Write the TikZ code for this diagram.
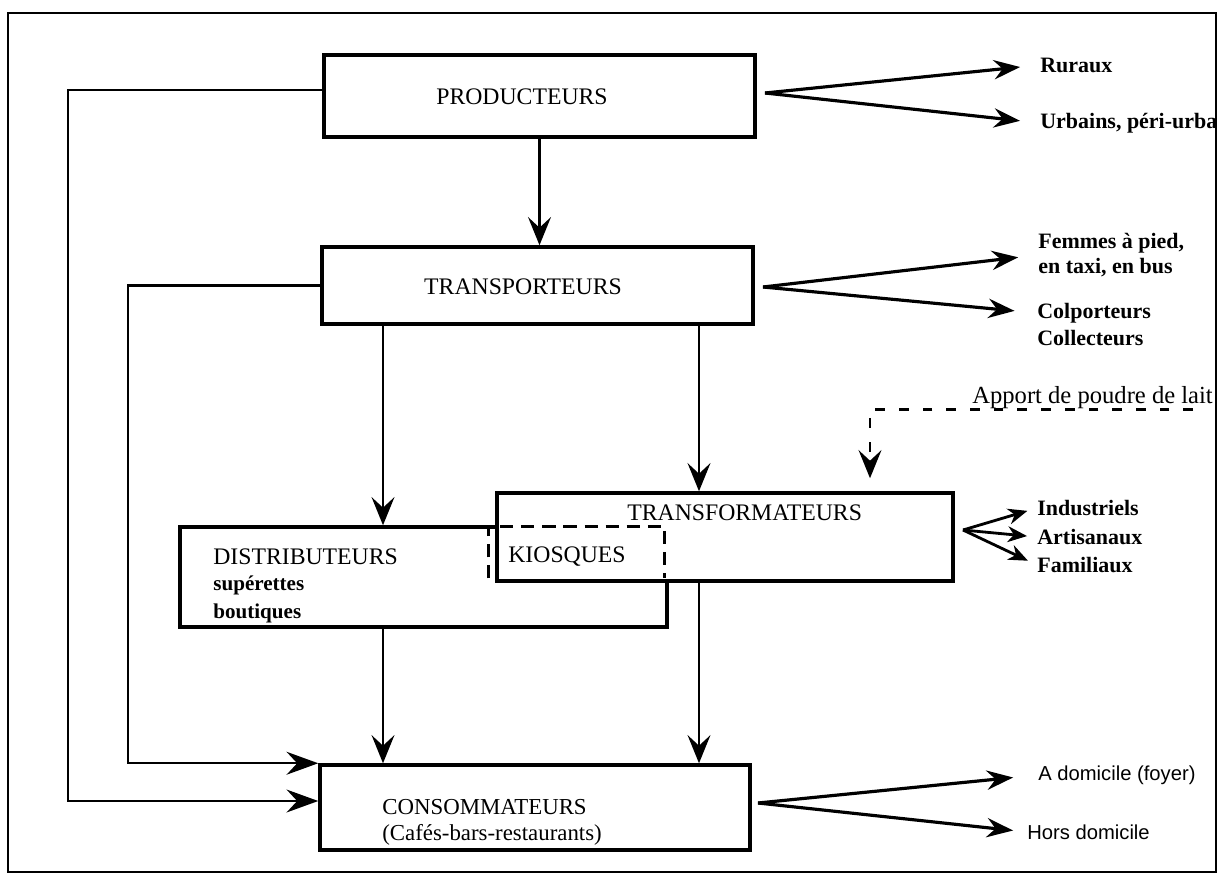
\documentclass[tikz,border=0pt]{standalone}
\usepackage{fontspec}
\setmainfont{Liberation Serif}
\newfontfamily\arialfont{Liberation Sans}
\usetikzlibrary{arrows.meta,fit}

\begin{document}
\begin{tikzpicture}[x=0.02cm, y=-0.02cm,
    box/.style={draw, line width=2pt, inner sep=0pt},
    title/.style={font=\fontsize{13.5}{16}\selectfont, inner sep=0pt},
    side/.style={font=\fontsize{12.5}{14}\selectfont\bfseries, inner sep=0pt, anchor=west, align=left},
    sans/.style={font=\arialfont\fontsize{11.5}{14}\selectfont, inner sep=0pt, anchor=west},
    down/.style={line width=1.4pt, -{Stealth[length=16pt, width=13pt, inset=6pt]}},
    fan/.style={line width=1.8pt, -{Stealth[length=15pt, width=11pt, inset=5pt]}},
    smallfan/.style={line width=1.6pt, -{Stealth[length=11pt, width=9pt, inset=3.5pt]}},
    feed/.style={line width=1.3pt, -{Stealth[length=18pt, width=13pt, inset=6pt]}}]

    % FRAME
    \useasboundingbox (0,0) rectangle (1223,879);
    \draw[line width=1.2pt] (8,13) rectangle (1216,872);

    % BOXES
    \node[box, fit={(324,55) (755,137)}] (prod) {};
    \node[box, fit={(322,247) (753,324)}] (transp) {};
    \node[box, fit={(180,527) (667,627)}] (distrib) {};
    \node[box, fill=white, fit={(497,493) (953,581)}] (transf) {};
    \node[inner sep=0pt, fit={(489,527) (664,578)}] (kiosk) {};
    \draw[line width=1.4pt, dash pattern=on 7.5pt off 4.5pt]
        (kiosk.south west) -- (kiosk.north west) -- (kiosk.north east) -- (kiosk.south east);
    \node[box, fit={(320,765) (750,850)}] (consom) {};

    % BOX TEXTS
    \node[title] (prodtxt) at (522,97) {PRODUCTEURS};
    \node[title] (transptxt) at (523,287) {TRANSPORTEURS};
    \node[title, anchor=west] (transftxt) at (627,513) {TRANSFORMATEURS};
    \node[title, anchor=west] (distribtxt) at (213,557) {DISTRIBUTEURS};
    \node[side, font=\fontsize{12}{14}\selectfont\bfseries] (superette) at (213,585) {supérettes};
    \node[side, font=\fontsize{12}{14}\selectfont\bfseries] (boutique) at (213,613) {boutiques};
    \node[title, anchor=west] (kiosktxt) at (508,557) {KIOSQUES};
    \node[title, anchor=base west, font=\fontsize{13}{15}\selectfont] (consomtxt) at (382,814) {CONSOMMATEURS};
    \node[title, anchor=base west, font=\fontsize{13}{15}\selectfont] (cafes) at (382,840) {(Cafés-bars-restaurants)};

    % SIDE LABELS
    \node[side] (rur) at (1040,65) {Ruraux};
    \node[side] (urb) at (1040,123) {Urbains, péri-urba};
    \node[side] (fem) at (1038,255) {Femmes à pied,\\en taxi, en bus};
    \node[side] (colp) at (1037,313) {Colporteurs};
    \node[side] (coll) at (1037,338) {Collecteurs};
    \node[side] (ind) at (1037,508) {Industriels};
    \node[side] (art) at (1037,537) {Artisanaux};
    \node[side] (fam) at (1037,565) {Familiaux};
    \node[sans] (dom) at (1038,775) {A domicile (foyer)};
    \node[sans] (hors) at (1027,832) {Hors domicile};
    \node[title, anchor=west, font=\fontsize{14}{16}\selectfont] (poudre) at (972,398) {Apport de poudre de lait};

    % FAN ARROWS
    \coordinate (prodfan) at (765,93);
    \coordinate (transpfan) at (763,287);
    \coordinate (transffan) at (963,530);
    \coordinate (consomfan) at (758,803);
    \draw[fan, shorten >=0.4cm] (prodfan) -- (rur.west);
    \draw[fan, shorten >=0.4cm] (prodfan) -- (urb.west);
    \draw[fan, shorten >=0.4cm] (transpfan) -- (fem.west);
    \draw[fan, shorten >=0.45cm] (transpfan) -- (colp.west);
    \draw[smallfan, shorten >=0.2cm] (transffan) -- (ind.west);
    \draw[smallfan, shorten >=0.2cm] (transffan) -- (art.west);
    \draw[smallfan, shorten >=0.2cm] (transffan) -- (fam.west);
    \draw[fan, shorten >=0.5cm] (consomfan) -- (dom.west);
    \draw[fan, shorten >=0.28cm] (consomfan) -- (hors.west);

    % DOWN ARROWS
    \coordinate (dx) at (383,0);
    \coordinate (tx) at (699,0);
    \draw[down] (prod.south) -- (transp.north -| prod.south);
    \draw[down] (transp.south -| dx) -- (distrib.north -| dx);
    \draw[down] (transp.south -| tx) -- (transf.north -| tx);
    \draw[down] (distrib.south -| dx) -- (consom.north -| dx);
    \draw[down] (transf.south -| tx) -- (consom.north -| tx);

    % LEFT FEEDS
    \coordinate (outerx) at (68,0);
    \coordinate (innerx) at (128,0);
    \coordinate (py) at (0,90);
    \coordinate (cy) at (0,801);
    \draw[feed] (prod.west |- py) -| (outerx |- cy) -- (consom.west |- cy);
    \draw[feed] (transp.west) -| (innerx |- consom.north west) -- (consom.north west);

    % POUDRE DE LAIT
    \coordinate (px) at (870,0);
    \draw[down, dash pattern=on 5.5pt off 8pt, shorten >=0.26cm] ([xshift=-0.4cm]poudre.south east) -| (transf.north -| px);

\end{tikzpicture}
\end{document}
